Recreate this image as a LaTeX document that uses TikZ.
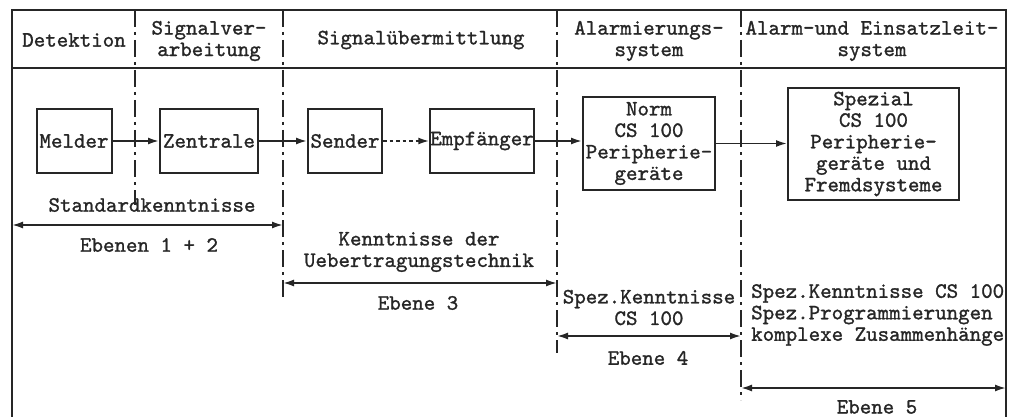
\documentclass[tikz,border=0pt]{standalone}
\usepackage{fontspec}
\newfontfamily\tw[FakeBold=1.2]{lmmono10-regular.otf}
\usetikzlibrary{arrows.meta}
\begin{document}
\begin{tikzpicture}[x=1pt,y=-1pt,
  every node/.style={font=\tw\fontsize{21.9}{21.5}\selectfont, inner sep=0pt, text=black!85},
  box/.style={draw=black!85, line width=2pt, align=center},
  frame/.style={draw=black!85, line width=2pt},
  lane/.style={draw=black!85, line width=1.8pt, dash pattern=on 17pt off 5pt on 3pt off 5pt},
  flow/.style={draw=black!85, line width=1.8pt, -{Latex[length=11pt,width=7pt]}},
  dflow/.style={flow, dash pattern=on 3.5pt off 3pt},
  span/.style={draw=black!85, line width=1.8pt, {Latex[length=11pt,width=7pt]}-{Latex[length=11pt,width=7pt]}},
  lbl/.style={align=center},
]
\useasboundingbox (0,0) rectangle (1011,417);
\fill[white] (0,0) rectangle (1011,417);
% frame
\draw[frame] (12,417) -- (12,10) -- (1006,10) -- (1006,417);
\draw[frame] (12,68) -- (1006,68);
% lane dividers
\draw[lane] (135,10) -- (135,205);
\draw[lane] (283,10) -- (283,298);
\draw[lane] (557,10) -- (557,353);
\draw[lane] (741,10) -- (741,400);
% headers
\node[lbl] (hDet) at (74,40) {Detektion};
\node[lbl] (hSig) at (209,41) {Signalver-\\arbeitung};
\node[lbl] (hUeb) at (421,40) {Signalübermittlung};
\node[lbl] (hAlm) at (649,41) {Alarmierungs-\\system};
\node[lbl] (hEin) at (872,41) {Alarm-und Einsatzleit-\\system};
% boxes
\node[box, minimum width=75pt, minimum height=63pt] (melder) at (74,141) {Melder};
\node[box, minimum width=98pt, minimum height=63pt] (zentrale) at (209,141) {Zentrale};
\node[box, minimum width=74pt, minimum height=63pt] (sender) at (345,141) {Sender};
\node[box, minimum width=100pt, minimum height=63pt] (empf) at (482,141) {Empfänger};
\node[box, minimum width=132pt, minimum height=93pt] (norm) at (649,143.5) {Norm\\CS 100\\Peripherie-\\geräte};
\node[box, minimum width=171pt, minimum height=112pt] (spez) at (873.5,144) {Spezial\\CS 100\\Peripherie-\\geräte und\\Fremdsysteme};
% flow arrows
\draw[flow] (melder) -- (zentrale);
\draw[flow] (zentrale) -- (sender);
\draw[dflow] (sender) -- (empf);
\draw[flow] (empf.east) -- (empf.east -| norm.west);
\draw[flow] (norm.east) -- (norm.east -| spez.west);
% knowledge labels
\node[lbl] (std) at (152,205) {Standardkenntnisse};
\node[lbl] (e12) at (149,245) {Ebenen 1 + 2};
\node[lbl] (kue) at (419,252) {Kenntnisse der\\Uebertragungstechnik};
\node[lbl] (e3) at (418,303) {Ebene 3};
\node[lbl] (spk) at (649,307.5) {Spez.Kenntnisse\\CS 100};
\node[lbl] (e4) at (648,358) {Ebene 4};
\node[align=left, anchor=west] (spk5) at (751,315) {Spez.Kenntnisse CS 100\\Spez.Programmierungen\\komplexe Zusammenhänge};
\node[lbl] (e5) at (877,407) {Ebene 5};
% span arrows
\coordinate (s1a) at (12,225);   \coordinate (s1b) at (283,225);
\coordinate (s3a) at (283,283);  \coordinate (s3b) at (557,283);
\coordinate (s4a) at (557,336);  \coordinate (s4b) at (741,336);
\coordinate (s5a) at (741,388);  \coordinate (s5b) at (1006,388);
\draw[span] (s1a) -- (s1b);
\draw[span] (s3a) -- (s3b);
\draw[span] (s4a) -- (s4b);
\draw[span] (s5a) -- (s5b);
\end{tikzpicture}
\end{document}
